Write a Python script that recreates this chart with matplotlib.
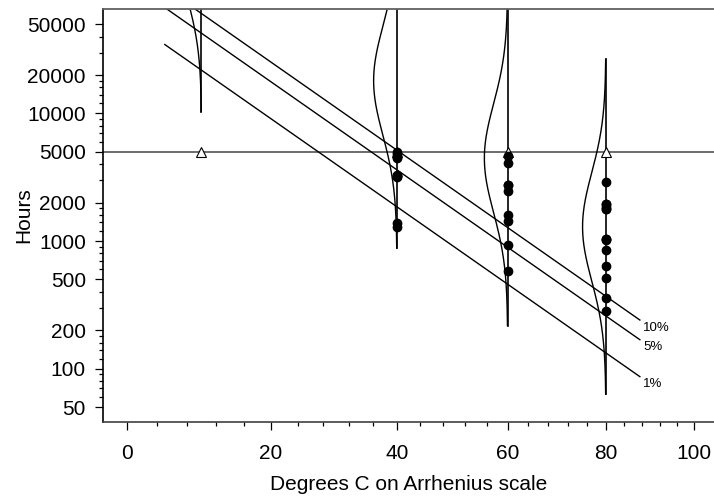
import numpy as np
import matplotlib
matplotlib.use("Agg")
import matplotlib.pyplot as plt
from statistics import NormalDist

# ---------------- data ----------------
censor_temps = [10, 40, 60, 80]          # degrees C with units censored
censor_hours = 5000                      # censoring time
fail_temps = [40, 60, 80]
fail_hours = {
    40: [1298, 1390, 3187, 3241, 3261, 3313, 4501, 4568, 4841, 4982],
    60: [581, 925, 1432, 1586, 2452, 2734, 2772, 4106, 4674],
    80: [283, 361, 515, 638, 854, 1024, 1030, 1045, 1767, 1777, 1856,
         1951, 1964, 2884],
}
density_temps = [10, 40, 60, 80]

# fitted Arrhenius-lognormal model
beta0 = -13.469
beta1 = 0.6279          # activation energy, eV
sigma = 0.9778
quantile_probs = [0.10, 0.05, 0.01]
quantile_labels = ["10%", "5%", "1%"]
line_temps = [5, 87.5]
band_prob = 0.001

x_ticks = [0, 20, 40, 60, 80, 100]
x_minor = [t for t in range(4, 100, 4) if t % 20 != 0]
y_ticks = [50, 100, 200, 500, 1000, 2000, 5000, 10000, 20000, 50000]
y_minor = [v for d in [10, 100, 1000, 10000]
           for v in [d * m for m in [1.2, 1.4, 1.6, 1.8, 3, 4, 6, 7, 8, 9]]
           if 50 <= v <= 50000 and v not in y_ticks]

# ---------------- helpers ----------------
K_BOLTZ = 11605.0


def fwd(t):
    t = np.asarray(t, dtype=float)
    with np.errstate(divide="ignore", invalid="ignore"):
        return -K_BOLTZ / (t + 273.15)


def inv(v):
    v = np.asarray(v, dtype=float)
    with np.errstate(divide="ignore", invalid="ignore"):
        return -K_BOLTZ / v - 273.15


def mu(t):
    return beta0 + beta1 * K_BOLTZ / (np.asarray(t, dtype=float) + 273.15)


nd = NormalDist()

plt.rcParams["font.family"] = ["Liberation Sans", "DejaVu Sans"]

fig = plt.figure(figsize=(7.14, 5.0), dpi=100)
ax = fig.add_axes([103.3 / 714, 1 - 421.7 / 500, 1 - 103.3 / 714, (421.7 - 9) / 500])
ax.set_xscale("function", functions=(fwd, inv))
ax.set_yscale("log")
ax.set_xlim(-3, 105)
ax.set_ylim(38.4, 65800)

# horizontal censoring line
ax.axhline(censor_hours, color="#606060", lw=1.3, zorder=1)

# quantile lines
lt = np.array(line_temps, dtype=float)
for p, lab in zip(quantile_probs, quantile_labels):
    zq = nd.inv_cdf(p)
    hrs = np.exp(mu(lt) + sigma * zq)
    ax.plot(lt, hrs, color="black", lw=1.0, zorder=2)
    ax.annotate(lab, xy=(lt[-1], hrs[-1]), xytext=(2.5, -5.5),
                textcoords="offset points", ha="left", va="center",
                fontsize=9.5)

# vertical bands and density curves
zb = nd.inv_cdf(1 - band_prob)
zz = np.linspace(-zb, zb, 300)
width_units = 0.468
for t in density_temps:
    m = float(mu(t))
    hrs = np.exp(m + sigma * zz)
    ax.plot([t, t], [hrs[0], hrs[-1]], color="black", lw=1.2, zorder=2)
    xs = inv(fwd(t) - width_units * np.exp(-zz ** 2 / 2))
    ax.plot(xs, hrs, color="black", lw=1.0, zorder=2)

# censored (triangles)
ax.plot(censor_temps, [censor_hours] * len(censor_temps), linestyle="none",
        marker="^", markersize=7.5, markerfacecolor="white",
        markeredgecolor="black", markeredgewidth=0.8, zorder=3)

# failures
for t in fail_temps:
    ax.plot([t] * len(fail_hours[t]), fail_hours[t], linestyle="none",
            marker="o", markersize=6, color="black", zorder=4)

# ticks
ax.set_xticks(x_ticks)
ax.set_xticklabels([str(v) for v in x_ticks])
ax.set_xticks(x_minor, minor=True)
ax.set_yticks(y_ticks)
ax.set_yticklabels([str(v) for v in y_ticks])
ax.set_yticks(y_minor, minor=True)
ax.yaxis.set_minor_formatter(matplotlib.ticker.NullFormatter())
ax.xaxis.set_minor_formatter(matplotlib.ticker.NullFormatter())
ax.tick_params(which="major", direction="out", length=6, width=0.9,
               labelsize=15, pad=6.5)
ax.tick_params(axis="x", which="major", pad=10)
ax.tick_params(which="minor", direction="out", length=3, width=0.9)

ax.set_xlabel("Degrees C on Arrhenius scale", fontsize=15, labelpad=9)
ax.set_ylabel("Hours", fontsize=15, labelpad=-4.5)

ax.spines["right"].set_visible(False)
ax.spines["top"].set_color("#606060")
ax.spines["top"].set_linewidth(1.3)
ax.spines["left"].set_color("black")
ax.spines["left"].set_linewidth(1.2)
ax.spines["bottom"].set_color("#404040")
ax.spines["bottom"].set_linewidth(1.2)

fig.savefig("out.png", dpi=100)
